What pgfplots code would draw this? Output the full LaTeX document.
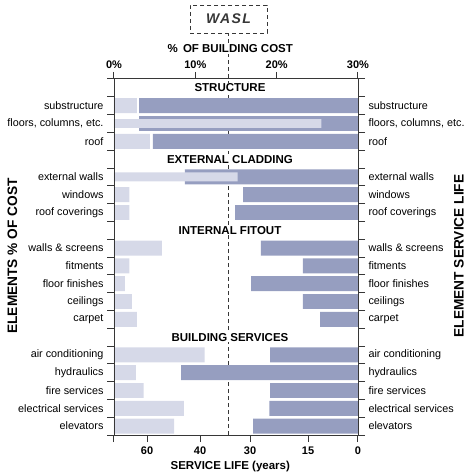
\documentclass[border=0pt]{standalone}
\usepackage{fontspec}
\setmainfont{Liberation Sans}
\setsansfont{Liberation Sans}
\usepackage{pgfplots}
\pgfplotsset{compat=1.18}

\definecolor{darkbar}{RGB}{150,158,192}
\definecolor{lightbar}{RGB}{214,217,232}
\definecolor{axgray}{RGB}{55,55,55}

\newcommand\lab{\fontsize{10.8}{12}\selectfont}
\newcommand\bld{\bfseries\fontsize{11.5}{13}\selectfont}
\newcommand\tkl{\bfseries\fontsize{11}{13}\selectfont}
\newcommand\side{\bfseries\fontsize{13.7}{16}\selectfont}

\tikzset{wasl/.style={axgray, line width=0.9pt, dash pattern=on 4pt off 3pt}}

% rows 0..19 top to bottom; headings at 0, 4, 8, 14
\pgfplotsset{
  lay/.style={at={(0,0)}, anchor=south west, scale only axis,
    width=244pt, height=356pt,
    ymin=-0.5, ymax=19.5, y dir=reverse, clip=false,
    tick align=outside, major tick length=7pt,
    tick style={axgray, line width=1pt},
    /pgf/number format/assume math mode=true},
  rows/.style={ytick={1,2,3,5,6,7,9,10,11,12,13,15,16,17,18,19},
    yticklabels={substructure,{floors, columns, etc.},roof,
      external walls,windows,roof coverings,
      walls \& screens,fitments,floor finishes,ceilings,carpet,
      air conditioning,hydraulics,fire services,electrical services,elevators},
    yticklabel style={font=\lab}, ytick style={draw=none}},
}

% % of building cost
\pgfplotstableread{
row cost
1   2.8
3   4.4
6   1.9
7   1.9
9   5.9
10  1.9
11  1.35
12  2.2
13  2.8
15  11.15
16  2.7
17  3.65
18  8.6
19  7.4
}\costdata
\pgfplotstableread{
row cost
2   25.5
5   15.2
}\costthin
% service life (years)
\pgfplotstableread{
row life
1   63
2   63
3   57.8
5   45.7
6   31.4
7   33
9   27.2
10  16.3
11  29.7
12  16.3
13  11.4
15  24.8
16  47.2
17  24.8
18  25
19  29.2
}\lifedata

\begin{document}
\begin{tikzpicture}
\useasboundingbox (-114pt,-41pt) rectangle (354pt,435pt);

% service life axis (bottom, reversed, uneven scale)
\begin{axis}[lay, rows,
  x dir=reverse, xmin=0, xmax=72.5,
  x coord trafo/.code={\pgfmathparse{(#1<=15)*(#1*50/15)
      + and(#1>15,#1<=30)*(50+(#1-15)*58/15)
      + and(#1>30,#1<=40)*(108+(#1-30)*5)
      + (#1>40)*(158+(#1-40)*2.65)}},
  axis line style={draw=none},
  xtick={0,15,30,40,60,72.5}, xticklabels={0,15,30,40,60,{}},
  xtick pos=left, xticklabel style={font=\tkl, yshift=-1pt},
  ytick pos=right, yticklabel pos=right]
\draw[wasl] (axis cs:34.3,19.5) -- (axis cs:34.3,-3.1);
\addplot[xbar, bar width=0.84, fill=darkbar, draw=none] table[x=life, y=row] {\lifedata};
\end{axis}

% cost axis (top)
\begin{axis}[lay, rows,
  xmin=0, xmax=30,
  axis line style={draw=none},
  xtick={0,10,20,30}, xticklabels={0\%,10\%,20\%,30\%},
  xtick pos=right, xticklabel style={font=\tkl},
  ytick pos=left]
\addplot[xbar, bar width=0.84, fill=lightbar, draw=none] table[x=cost, y=row] {\costdata};
\addplot[xbar, bar width=0.5, fill=lightbar, draw=none] table[x=cost, y=row] {\costthin};
\node[font=\bld, fill=white, inner sep=1pt] at (axis cs:14.26,0) {STRUCTURE};
\node[font=\bld, fill=white, inner sep=1pt] at (axis cs:14.26,4) {EXTERNAL CLADDING};
\node[font=\bld, fill=white, inner sep=1pt] at (axis cs:14.26,8) {INTERNAL FITOUT};
\node[font=\bld, fill=white, inner sep=1pt] at (axis cs:14.26,14) {BUILDING SERVICES};
\end{axis}

% frame with row ticks on both sides
\begin{axis}[lay, xmin=0, xmax=30, xtick=\empty,
  ytick={-0.5,0.5,...,19.5}, yticklabels={}, ytick pos=both,
  axis line style={axgray, line width=1pt}]
\end{axis}

\node[font=\bld, fill=white, inner sep=1pt] at (116.3pt,386pt) {\%\,\ OF BUILDING COST};
\node[font=\bld] at (116.3pt,-31.7pt) {SERVICE LIFE (years)};
\node[font=\side, rotate=90] at (-101.5pt,179pt) {ELEMENTS \% OF COST};
\node[font=\side, rotate=90] at (345pt,179pt) {ELEMENT SERVICE LIFE};
\node[wasl, draw, fill=white, minimum width=77pt, minimum height=28pt,
  font=\bfseries\itshape\fontsize{14}{16}\selectfont\addfontfeatures{LetterSpace=10}]
  at (114.5pt,416pt) {WASL};
\end{tikzpicture}
\end{document}
